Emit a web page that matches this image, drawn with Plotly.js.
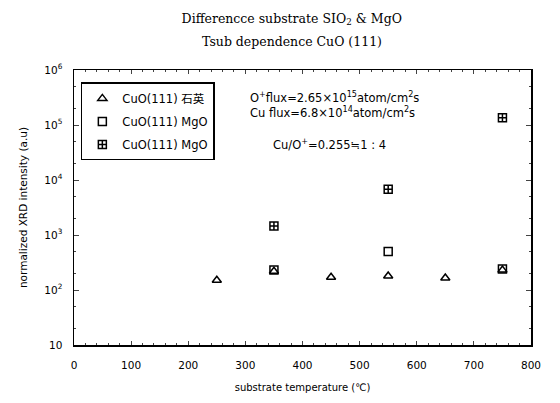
<!DOCTYPE html>
<html>
<head>
<meta charset="utf-8">
<script src="https://cdn.plot.ly/plotly-3.0.1.min.js"></script>
<style>html,body{margin:0;padding:0;background:#fff;}#chart{width:560px;height:403px;}</style>
</head>
<body>
<div id="chart"></div>
<script>
// Data
const seriesNames = ["CuO(111) 石英", "CuO(111) MgO", "CuO(111) MgO"];
const tempQuartz = [250, 350, 450, 550, 650, 750];
const intQuartz = [150, 220, 170, 180, 165, 230];
const tempMgO = [350, 550, 750];
const intMgO = [230, 500, 240];
const tempMgO2 = [350, 550, 750];
const intMgO2 = [1450, 6800, 135000];
const xTickVals = [0, 100, 200, 300, 400, 500, 600, 700, 800];
const yTickVals = [10, 100, 1000, 10000, 100000, 1000000];
const yTickText = ["10", "10<sup>2</sup>", "10<sup>3</sup>", "10<sup>4</sup>", "10<sup>5</sup>", "10<sup>6</sup>"];

const SANS = "DejaVu Sans, Noto Sans CJK SC, sans-serif";
const SERIF = "DejaVu Serif, Noto Sans CJK SC, serif";

const mk = (sym) => ({symbol: sym, size: 8, color: "#000", line: {color: "#000", width: 1.5}});

const traces = [
  {x: tempQuartz, y: intQuartz, name: seriesNames[0], legendgroup: "a", type: "scatter", mode: "markers", marker: mk("triangle-up-open")},
  {x: tempMgO, y: intMgO, name: seriesNames[1], legendgroup: "b", type: "scatter", mode: "markers", marker: mk("square-open")},
  {x: tempMgO2, y: intMgO2, name: seriesNames[2], legendgroup: "c", type: "scatter", mode: "markers", marker: mk("square-cross-open")}
];

const layout = {
  width: 560, height: 403,
  margin: {l: 74, r: 29, t: 70, b: 58},
  paper_bgcolor: "#fff", plot_bgcolor: "#fff",
  font: {family: SANS, color: "#000", size: 10},
  title: {
    text: "Differencce substrate SIO<sub>2</sub> & MgO",
    font: {family: SERIF, size: 12.5, color: "#000"},
    x: 0.521, xanchor: "center", y: 0.955, yanchor: "middle"
  },
  xaxis: {
    range: [0, 800], tickvals: xTickVals, ticks: "inside", ticklen: 4,
    showline: true, linecolor: "#000", linewidth: 1.5, mirror: "ticks",
    showgrid: false, zeroline: false,
    minor: {ticks: "inside", ticklen: 2, dtick: 20, showgrid: false},
    tickfont: {size: 10.5, family: SANS},
    ticklabelstandoff: 10,
    title: {text: "substrate temperature (℃)", font: {size: 10, family: SANS}, standoff: 14}
  },
  yaxis: {
    type: "log", range: [1, 6], tickvals: yTickVals, ticktext: yTickText,
    ticks: "inside", ticklen: 5,
    showline: true, linecolor: "#000", linewidth: 1.5, mirror: "ticks",
    showgrid: false, zeroline: false,
    minor: {ticks: "inside", ticklen: 2, showgrid: false},
    tickfont: {size: 10.5, family: SANS},
    ticklabelstandoff: 8,
    title: {text: "normalized XRD intensity (a.u)", font: {size: 10.5, family: SANS}, standoff: 14}
  },
  showlegend: true,
  legend: {
    x: 0.015, y: 0.955, xanchor: "left", yanchor: "top",
    traceorder: "grouped", tracegroupgap: 4,
    bordercolor: "#000", borderwidth: 1.5, bgcolor: "#fff",
    font: {size: 11.5, family: SANS}, itemwidth: 30
  },
  shapes: [
    {type: "line", xref: "paper", yref: "y", x0: 0, x1: 0.33, y0: 5, y1: 5,
     line: {color: "#000", width: 1, dash: "dot"}, layer: "above"}
  ],
  annotations: [
    {xref: "paper", yref: "paper", x: 0.477, y: 1.105, xanchor: "center", yanchor: "middle", showarrow: false,
     text: "Tsub dependence CuO (111)", font: {size: 12.5, family: SERIF}},
    {xref: "paper", yref: "paper", x: 0.38, y: 0.90, xanchor: "left", yanchor: "middle", showarrow: false,
     text: "O<sup>+</sup>flux=2.65×10<sup>15</sup>atom/cm<sup>2</sup>s", font: {size: 11.5, family: SANS}},
    {xref: "paper", yref: "paper", x: 0.38, y: 0.845, xanchor: "left", yanchor: "middle", showarrow: false,
     text: "Cu flux=6.8×10<sup>14</sup>atom/cm<sup>2</sup>s", font: {size: 11.5, family: SANS}},
    {xref: "paper", yref: "paper", x: 0.43, y: 0.73, xanchor: "left", yanchor: "middle", showarrow: false,
     text: "Cu/O<sup>+</sup>=0.255≒1 : 4", font: {size: 11.5, family: SANS}}
  ]
};

Plotly.newPlot("chart", traces, layout, {displayModeBar: false, staticPlot: true});
</script>
</body>
</html>
